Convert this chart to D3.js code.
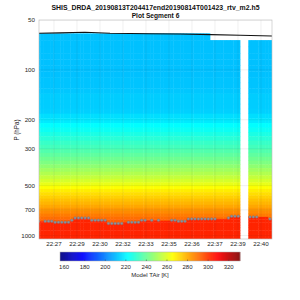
<!DOCTYPE html>
<html>
<head>
<meta charset="utf-8">
<script src="https://cdn.jsdelivr.net/npm/d3@7"></script>
<style>
  body { margin: 0; background: #fff; }
  svg { font-family: "Liberation Sans", Arial, sans-serif; }
</style>
</head>
<body>
<svg id="chart"></svg>
<script>
var width = 300;
var height = 300;
var plot = {left: 39, right: 272, top: 20, bottom: 239};

var title1 = 'SHIS_DRDA_20190813T204417end20190814T001423_rtv_m2.h5';
var title2 = 'Plot Segment 6';

// retrieval pressure levels (hPa) and the model air temperature (K) at each
var levelP = [60.19, 66.13, 72.47, 79.23, 86.41, 94.02, 102.08, 110.59, 119.58, 129.03,
  138.98, 149.42, 160.37, 171.83, 183.82, 196.35, 209.42, 223.04, 237.23, 251.99,
  267.33, 283.26, 299.79, 316.92, 334.67, 353.04, 372.04, 391.69, 411.98, 432.92,
  454.53, 476.81, 499.77, 523.41, 547.75, 572.79, 598.54, 625.01, 652.20, 680.12,
  708.77, 738.18, 768.33, 799.25, 830.94, 863.39, 896.63, 930.66, 965.49, 1001.11,
  1037.55, 1074.80];
var levelT = [211, 211, 211, 211, 211, 211, 211, 211.5, 211.5, 212,
  213, 213, 213, 213.5, 216, 218, 221.5, 223.5, 226, 228.5,
  231, 233, 235.5, 238, 240.5, 243, 246, 249, 252, 255,
  258, 261.5, 265, 268.5, 271, 273.5, 276, 278, 280.5, 283,
  285.5, 288, 290.5, 293, 295, 297, 299, 301, 302, 303,
  304, 305];
var layerT = 303;   // temperature below the marked layer top

// profile times, minutes after 22:00
var profileMin = [26.43, 26.64, 26.85, 27.06, 27.26, 27.47, 27.68, 27.89, 28.10, 28.31,
  28.52, 28.72, 28.93, 29.14, 29.35, 29.56, 29.77, 29.98, 30.18, 30.39,
  30.60, 30.81, 31.02, 31.23, 31.43, 31.64, 31.85, 32.06, 32.27, 32.48,
  32.69, 32.89, 33.10, 33.31, 33.52, 33.73, 33.94, 34.15, 34.35, 34.56,
  34.77, 34.98, 35.19, 35.40, 35.60, 35.81, 36.02, 36.23, 36.44, 36.65,
  36.86, 37.06, 37.27, 37.48, 37.69, 37.90, 38.11, 38.32, 38.52, 38.73,
  38.94, 39.67, 39.88, 40.09, 40.30, 40.51, 40.72, 40.92];
// highest level with data in each profile
var topP = [60.19, 60.19, 60.19, 60.19, 60.19, 60.19, 60.19, 60.19, 60.19, 60.19,
  60.19, 60.19, 60.19, 60.19, 60.19, 60.19, 60.19, 60.19, 60.19, 60.19,
  60.19, 60.19, 60.19, 60.19, 60.19, 60.19, 60.19, 60.19, 60.19, 60.19,
  60.19, 60.19, 60.19, 60.19, 60.19, 60.19, 60.19, 60.19, 60.19, 60.19,
  60.19, 60.19, 60.19, 60.19, 60.19, 60.19, 60.19, 60.19, 60.19, 60.19,
  60.19, 60.19, 66.13, 66.13, 66.13, 66.13, 66.13, 66.13, 66.13, 66.13,
  66.13, 66.13, 66.13, 66.13, 66.13, 66.13, 66.13, 66.13];
// layer top pressure (grey markers)
var layerP = [820, 820, 820, 820, 820, 832, 832, 832, 832, 832,
  809, 783, 783, 783, 783, 783, 809, 809, 809, 809,
  809, 847, 847, 847, 847, 847, 832, 832, 832, 832,
  832, 809, 809, 809, 809, 809, 809, 815, 815, 815,
  809, 809, 820, 820, 820, 794, 794, 794, 794, 794,
  794, 794, 794, 794, 794, 794, 794, 783, 766, 766,
  766, 772, 772, 772, 772, 772, 772, 794];
var noMarker = [1, 26, 33, 35, 37, 38, 39, 54, 55, 56, 64, 65, 66];

// aircraft pressure
var flightMin = [26.46, 27.78, 29.34, 30.91, 33.41, 35.29, 37.23, 39.05, 41.05];
var flightP = [60.15, 59.8, 59.3, 60.1, 60.5, 60.7, 61.3, 61.8, 62.4];

var xTickMin = [27.40, 28.84, 30.28, 31.72, 33.16, 34.60, 36.04, 37.48, 38.92, 40.36];
var xTickLabels = ['22:27', '22:29', '22:30', '22:32', '22:33', '22:35', '22:36', '22:37', '22:39', '22:40'];
var yTicks = [50, 100, 200, 300, 500, 700, 1000];
var colorTicks = [160, 180, 200, 220, 240, 260, 280, 300, 320];
var colorRange = [156, 331];

function jet(f){
  f = Math.max(0, Math.min(1, f));
  var c = function(v){ return Math.round(255 * Math.max(0, Math.min(1, v))); };
  var r = Math.min(4 * f - 1.5, -4 * f + 4.5);
  var g = Math.min(4 * f - 0.5, -4 * f + 3.5);
  var b = Math.min(4 * f + 0.5, -4 * f + 2.5);
  return 'rgb(' + c(r) + ',' + c(g) + ',' + c(b) + ')';
}

var xScale = d3.scaleLinear().domain([26.461, 41.049]).range([plot.left, plot.right]);
var yScale = d3.scaleLog().domain([50, 1050]).range([plot.top, plot.bottom]);
var tScale = d3.scaleLinear().domain(colorRange).range([0, 1]);
function color(t){ return jet(tScale(t)); }

var svg = d3.select('#chart').attr('width', width).attr('height', height);

svg.append('defs').append('clipPath').attr('id', 'clip')
  .append('rect')
    .attr('x', plot.left).attr('y', plot.top)
    .attr('width', plot.right - plot.left).attr('height', plot.bottom - plot.top);

// build heat map cells
var step = d3.median(d3.pairs(profileMin, (a, b) => b - a));
var cells = [];
profileMin.forEach(function(t, i){
  var x0 = xScale(t - step / 2), x1 = xScale(t + step / 2);
  for (var j = 0; j < levelP.length - 1; j++){
    if (levelP[j] < topP[i]) continue;
    var p0 = levelP[j], p1 = levelP[j + 1], pb = layerP[i];
    if (p1 <= pb){
      cells.push({x0: x0, x1: x1, p0: p0, p1: p1, t: levelT[j]});
    } else if (p0 >= pb){
      cells.push({x0: x0, x1: x1, p0: p0, p1: p1, t: layerT});
    } else {
      cells.push({x0: x0, x1: x1, p0: p0, p1: pb, t: levelT[j]});
      cells.push({x0: x0, x1: x1, p0: pb, p1: p1, t: layerT});
    }
  }
});

var plotG = svg.append('g').attr('clip-path', 'url(#clip)');

plotG.selectAll('rect.cell')
  .data(cells)
  .enter()
  .append('rect')
    .attr('class', 'cell')
    .attr('x', d => d.x0)
    .attr('y', d => yScale(d.p0))
    .attr('width', d => d.x1 - d.x0 + 0.4)
    .attr('height', d => yScale(d.p1) - yScale(d.p0) + 0.4)
    .attr('fill', d => color(d.t));

// grid
plotG.selectAll('line.vgrid')
  .data(xTickMin)
  .enter()
  .append('line')
    .attr('x1', d => xScale(d)).attr('x2', d => xScale(d))
    .attr('y1', plot.top).attr('y2', plot.bottom)
    .attr('stroke', '#262626').attr('stroke-opacity', 0.12).attr('stroke-width', 0.6);

plotG.selectAll('line.hgrid')
  .data(yTicks)
  .enter()
  .append('line')
    .attr('y1', d => yScale(d)).attr('y2', d => yScale(d))
    .attr('x1', plot.left).attr('x2', plot.right)
    .attr('stroke', '#262626').attr('stroke-opacity', 0.12).attr('stroke-width', 0.6);

// aircraft line
plotG.append('path')
  .datum(flightMin.map((t, i) => [t, flightP[i]]))
  .attr('fill', 'none')
  .attr('stroke', '#111')
  .attr('stroke-width', 1.1)
  .attr('d', d3.line().x(d => xScale(d[0])).y(d => yScale(d[1])));

// layer markers
plotG.selectAll('circle.mark')
  .data(profileMin.map((t, i) => ({t: t, p: layerP[i], i: i})).filter(d => noMarker.indexOf(d.i) < 0))
  .enter()
  .append('circle')
    .attr('cx', d => xScale(d.t))
    .attr('cy', d => yScale(d.p))
    .attr('r', 1.25)
    .attr('fill', '#8d939c')
    .attr('stroke', '#6f747c')
    .attr('stroke-width', 0.4);

// axes box
svg.append('rect')
  .attr('x', plot.left).attr('y', plot.top)
  .attr('width', plot.right - plot.left).attr('height', plot.bottom - plot.top)
  .attr('fill', 'none').attr('stroke', '#bbb').attr('stroke-width', 0.6);

// x tick labels
svg.selectAll('text.xtick')
  .data(xTickMin)
  .enter()
  .append('text')
    .attr('x', d => xScale(d))
    .attr('y', plot.bottom + 6.8)
    .attr('text-anchor', 'middle')
    .attr('font-size', 6.2)
    .attr('fill', '#262626')
    .text((d, i) => xTickLabels[i]);

// y tick labels
svg.selectAll('text.ytick')
  .data(yTicks)
  .enter()
  .append('text')
    .attr('x', plot.left - 4)
    .attr('y', d => yScale(d))
    .attr('dy', '0.35em')
    .attr('text-anchor', 'end')
    .attr('font-size', 6.2)
    .attr('fill', '#262626')
    .text(d => d);

svg.append('text')
  .attr('transform', 'rotate(-90)')
  .attr('x', -130)
  .attr('y', 18.5)
  .attr('text-anchor', 'middle')
  .attr('font-size', 6.3)
  .attr('fill', '#262626')
  .text('P (hPa)');

// titles
svg.append('text')
  .attr('x', 155.5).attr('y', 9.5)
  .attr('text-anchor', 'middle')
  .attr('font-size', 6.9)
  .attr('font-weight', 'bold')
  .attr('fill', '#111')
  .text(title1);

svg.append('text')
  .attr('x', 155.5).attr('y', 18)
  .attr('text-anchor', 'middle')
  .attr('font-size', 6.6)
  .attr('font-weight', 'bold')
  .attr('fill', '#111')
  .text(title2);

// colour bar
var cb = {left: 60, right: 240, top: 252, bottom: 261};
var cbScale = d3.scaleLinear().domain(colorRange).range([cb.left, cb.right]);
var cbSteps = d3.range(colorRange[0], colorRange[1], 0.5);

svg.selectAll('rect.cb')
  .data(cbSteps)
  .enter()
  .append('rect')
    .attr('x', d => cbScale(d))
    .attr('y', cb.top)
    .attr('width', cbScale(colorRange[0] + 0.5) - cbScale(colorRange[0]) + 0.3)
    .attr('height', cb.bottom - cb.top)
    .attr('fill', d => color(d));

svg.append('rect')
  .attr('x', cb.left).attr('y', cb.top)
  .attr('width', cb.right - cb.left).attr('height', cb.bottom - cb.top)
  .attr('fill', 'none').attr('stroke', '#aaa').attr('stroke-width', 0.5);

svg.selectAll('line.cbtick')
  .data(colorTicks)
  .enter()
  .append('line')
    .attr('x1', d => cbScale(d)).attr('x2', d => cbScale(d))
    .attr('y1', cb.bottom - 1.5).attr('y2', cb.bottom)
    .attr('stroke', '#444').attr('stroke-width', 0.5);

svg.selectAll('text.cbtick')
  .data(colorTicks)
  .enter()
  .append('text')
    .attr('x', d => cbScale(d))
    .attr('y', cb.bottom + 7.5)
    .attr('text-anchor', 'middle')
    .attr('font-size', 6)
    .attr('fill', '#262626')
    .text(d => d);

svg.append('text')
  .attr('x', 150).attr('y', 276.5)
  .attr('text-anchor', 'middle')
  .attr('font-size', 6)
  .attr('fill', '#262626')
  .text('Model TAir [K]');
</script>
</body>
</html>
